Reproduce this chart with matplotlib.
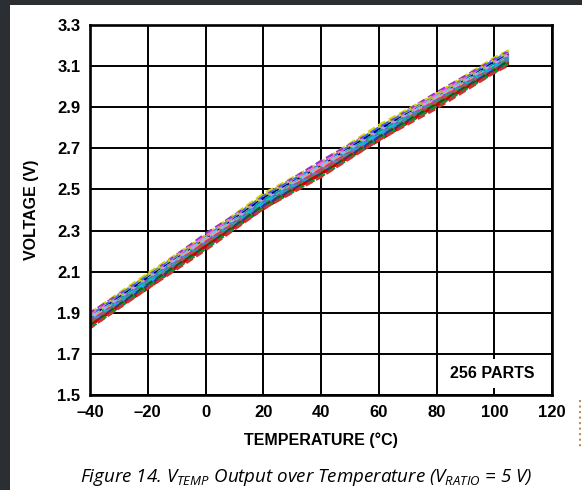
import matplotlib
matplotlib.use("Agg")
import matplotlib.pyplot as plt
from matplotlib.patches import Rectangle
from matplotlib.lines import Line2D

# typical V_TEMP curve (V) read at each temperature (°C)
temps = [-40, -20, 0, 20, 40, 60, 80, 100, 105]
vtemp_typ = [1.862, 2.05, 2.245, 2.435, 2.60, 2.77, 2.935, 3.10, 3.14]

# part-to-part spread around the typical curve (V)
part_offsets = [0.036, 0.032, 0.028, 0.024, 0.020, 0.017, 0.014, 0.010,
                0.007, 0.004, 0.001, -0.002, -0.005, -0.008, -0.011,
                -0.014, -0.017, -0.020, -0.024, -0.028, -0.032, -0.036]
# small wobble per temperature point, shared pattern from the measured traces
wobble = [0.0, 0.005, -0.004, 0.007, -0.003, 0.006, -0.005, 0.004, 0.0]

part_colors = ["#d4d400", "#9933cc", "#cccc33", "#3366ff", "#ff66cc",
               "#99cc33", "#000080", "#66ccff", "#cc99ff", "#009999",
               "#ff9966", "#6666cc", "#00cccc", "#cc3399", "#339966",
               "#3399ff", "#996633", "#006600", "#333399", "#cc0000",
               "#009933", "#cc3333"]

x_ticks = [-40, -20, 0, 20, 40, 60, 80, 100, 120]
y_ticks = [1.5, 1.7, 1.9, 2.1, 2.3, 2.5, 2.7, 2.9, 3.1, 3.3]

plt.rcParams["mathtext.fontset"] = "custom"
plt.rcParams["mathtext.rm"] = "Open Sans:italic"
plt.rcParams["mathtext.it"] = "Open Sans:italic"

fig = plt.figure(figsize=(5.82, 4.90), dpi=100)
fig.patch.set_facecolor("#2b2f33")
# white page area
fig.add_artist(Rectangle((10 / 582, 0), 1, 1 - 5 / 490, transform=fig.transFigure,
                         facecolor="white", edgecolor="none", zorder=0))

ax = fig.add_axes([90 / 582, 1 - 395 / 490, 462 / 582, 370 / 490])
ax.set_facecolor("white")

for i, (off, col) in enumerate(zip(part_offsets, part_colors)):
    w = wobble[i % 3:] + wobble[:i % 3]
    v = [b + off + dw for b, dw in zip(vtemp_typ, w)]
    ax.plot(temps, v, color=col, lw=1.9, linestyle=(i % 4, (3, 1.5)),
            zorder=3, solid_capstyle="butt")

ax.set_xlim(-40, 120)
ax.set_ylim(1.5, 3.3)
ax.set_xticks(x_ticks)
ax.set_yticks(y_ticks)
ax.set_xticklabels([f"{t}".replace("-", "\u2013") for t in x_ticks])
ax.set_yticklabels([f"{t:.1f}" for t in y_ticks])
ax.grid(True, color="black", lw=1.4, zorder=1)
ax.set_axisbelow(True)
ax.tick_params(length=0, pad=7, labelsize=12)
for lab in ax.get_xticklabels() + ax.get_yticklabels():
    lab.set_fontfamily("Liberation Sans")
    lab.set_fontweight("bold")
for sp in ax.spines.values():
    sp.set_linewidth(1.9)
    sp.set_color("black")
    sp.set_zorder(4)

ax.set_xlabel("TEMPERATURE (°C)", fontfamily="Liberation Sans", fontweight="bold",
              fontsize=11.5, labelpad=9)
ax.set_ylabel("VOLTAGE (V)", fontfamily="Liberation Sans", fontweight="bold",
              fontsize=11.5)
ax.yaxis.set_label_coords(-0.111, 0.5)

ax.text(0.963, 0.058, "256 PARTS", transform=ax.transAxes, ha="right", va="center",
        fontfamily="Liberation Sans", fontweight="bold", fontsize=11.5, zorder=5,
        bbox=dict(facecolor="white", edgecolor="none", pad=5))

fig.text(306 / 582, 1 - 477 / 490,
         r"Figure 14. $V_{TEMP}$ Output over Temperature ($V_{RATIO}$ = 5 V)",
         ha="center", va="center", fontfamily="Open Sans", style="italic",
         fontsize=13.5)

# dotted edge mark at the right of the page
fig.add_artist(Line2D([580 / 582, 580 / 582], [1 - 400 / 490, 1 - 447 / 490],
                      transform=fig.transFigure, color="#b09060", lw=1.5,
                      linestyle=":"))

fig.savefig("out.png", dpi=100)
